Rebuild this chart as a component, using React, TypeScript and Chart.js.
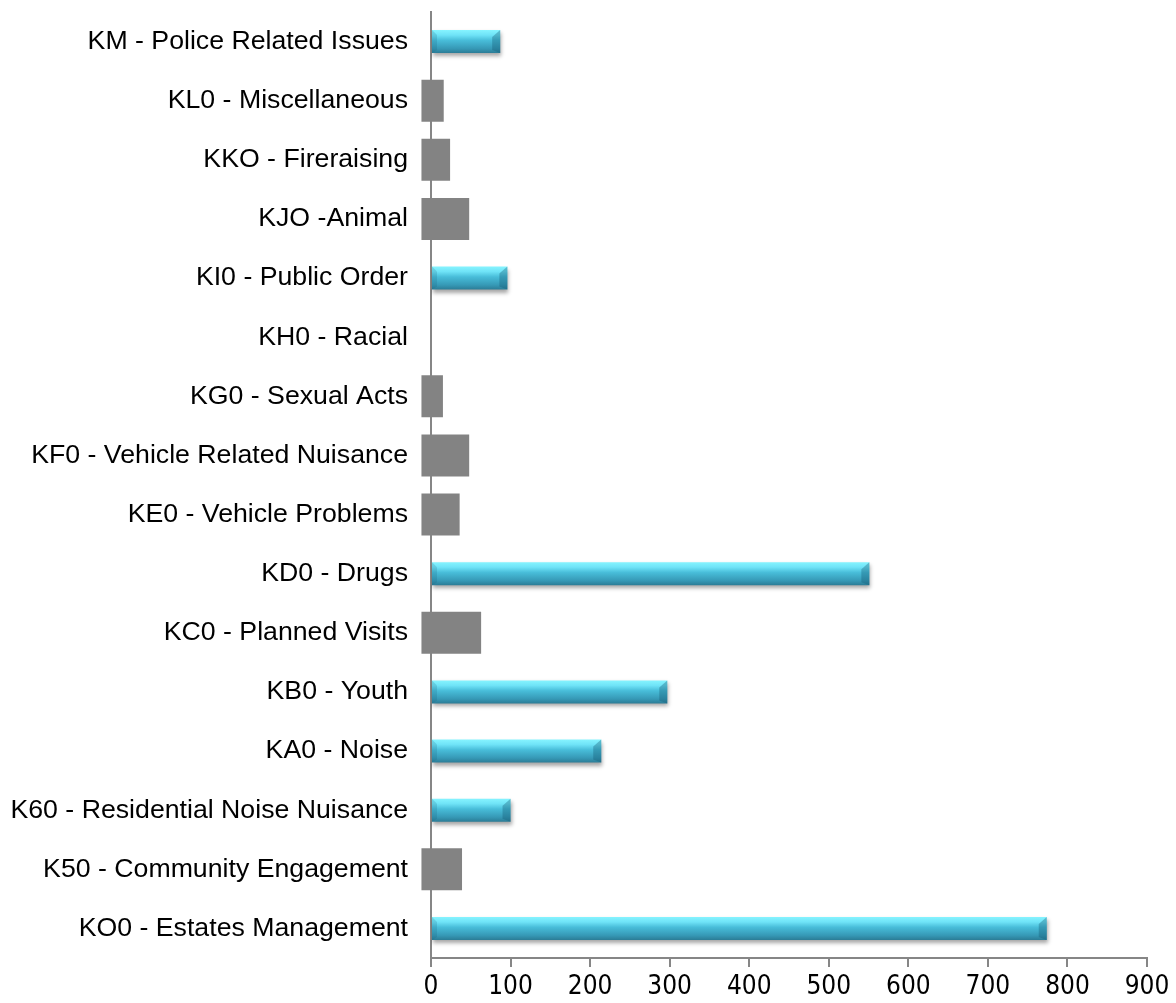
import React, { useEffect, useRef } from "react";
import { Chart, registerables } from "chart.js";

Chart.register(...registerables);

const CATEGORIES = [
  "KM - Police Related Issues",
  "KL0 - Miscellaneous",
  "KKO - Fireraising",
  "KJO -Animal",
  "KI0 - Public Order",
  "KH0 - Racial",
  "KG0 - Sexual Acts",
  "KF0 - Vehicle Related Nuisance",
  "KE0 - Vehicle Problems",
  "KD0 - Drugs",
  "KC0 - Planned Visits",
  "KB0 - Youth",
  "KA0 - Noise",
  "K60 - Residential Noise Nuisance",
  "K50 - Community Engagement",
  "KO0 - Estates Management",
];

const BLUE_VALUES = [87, null, null, null, 96, null, null, null, null, 551, null, 297, 214, 100, null, 774];
const GREY_VALUES = [null, 16, 24, 48, null, null, 15, 48, 36, null, 63, null, null, null, 39, null];

const X_MIN = 0;
const X_MAX = 900;
const X_STEP = 100;

const BLUE_FRACTION = 0.39;
const GREY_FRACTION = 0.71;
const GREY_BASE = -12;

const AXIS_COLOR = "#868686";

const shadowPlugin = {
  id: "barShadow",
  beforeDatasetDraw(chart: any, args: any) {
    if (args.index !== 0) return;
    const ctx = chart.ctx;
    ctx.save();
    ctx.shadowColor = "rgba(0,0,0,0.35)";
    ctx.shadowBlur = 4;
    ctx.shadowOffsetX = 1;
    ctx.shadowOffsetY = 3;
  },
  afterDatasetDraw(chart: any, args: any) {
    if (args.index !== 0) return;
    const ctx = chart.ctx;
    ctx.restore();
    const meta = chart.getDatasetMeta(0);
    meta.data.forEach((el: any, i: number) => {
      if (BLUE_VALUES[i] == null) return;
      const top = el.y - el.height / 2;
      const bot = el.y + el.height / 2;
      const x = el.x;
      const b = el.base;
      if (![top, bot, x, b].every(Number.isFinite)) return;
      ctx.save();
      ctx.beginPath();
      ctx.moveTo(x, top);
      ctx.lineTo(x, bot);
      ctx.lineTo(x - 8, bot - 3);
      ctx.lineTo(x - 8, top + 7);
      ctx.closePath();
      ctx.fillStyle = "rgba(20,90,115,0.35)";
      ctx.fill();
      ctx.beginPath();
      ctx.moveTo(b, top);
      ctx.lineTo(b + 5, top + 5);
      ctx.lineTo(b + 5, bot - 3);
      ctx.lineTo(b, bot);
      ctx.closePath();
      ctx.fillStyle = "rgba(20,90,115,0.18)";
      ctx.fill();
      ctx.restore();
    });
  },
};

export default function App() {
  const canvasRef = useRef<HTMLCanvasElement | null>(null);

  useEffect(() => {
    const canvas = canvasRef.current;
    if (!canvas) return;

    const blueGradient = (c: any) => {
      const chart = c.chart;
      const y = chart.scales && chart.scales.y;
      if (!y || c.type !== "data") return "#45BEDA";
      const center = y.getPixelForValue(c.dataIndex);
      const h = (y.height / CATEGORIES.length) * BLUE_FRACTION;
      if (!Number.isFinite(center) || !Number.isFinite(h) || h <= 0) return "#45BEDA";
      const g = chart.ctx.createLinearGradient(0, center - h / 2, 0, center + h / 2);
      g.addColorStop(0, "#86F4FF");
      g.addColorStop(0.22, "#6FE3F7");
      g.addColorStop(0.45, "#48BDD9");
      g.addColorStop(0.8, "#3699B6");
      g.addColorStop(1, "#2B7C96");
      return g;
    };

    const chart = new Chart(canvas, {
      type: "bar",
      data: {
        labels: CATEGORIES,
        datasets: [
          {
            label: "Blue",
            data: BLUE_VALUES as any,
            backgroundColor: blueGradient as any,
            borderWidth: 0,
            grouped: false,
            barPercentage: 1,
            categoryPercentage: BLUE_FRACTION,
          },
          {
            label: "Grey",
            data: GREY_VALUES as any,
            backgroundColor: "#838383",
            borderWidth: 0,
            grouped: false,
            barPercentage: 1,
            categoryPercentage: GREY_FRACTION,
            base: GREY_BASE,
            clip: false as any,
          } as any,
        ],
      },
      options: {
        indexAxis: "y",
        animation: false,
        responsive: false,
        maintainAspectRatio: false,
        layout: { padding: { top: 12, right: 29, left: 0, bottom: 0 } },
        plugins: {
          legend: { display: false },
          tooltip: { enabled: false },
        },
        scales: {
          x: {
            min: X_MIN,
            max: X_MAX,
            afterFit: (s: any) => {
              s.height = 45;
            },
            ticks: {
              stepSize: X_STEP,
              color: "#000",
              padding: 5,
              maxRotation: 0,
              font: { family: "'Liberation Sans Narrow', 'DejaVu Sans Condensed', sans-serif", size: 26 },
            },
            grid: {
              display: true,
              drawOnChartArea: false,
              drawTicks: true,
              tickLength: 9,
              color: AXIS_COLOR,
              lineWidth: 2,
            },
            border: { display: true, color: AXIS_COLOR, width: 2 },
          },
          y: {
            afterFit: (s: any) => {
              s.width = 431;
              s.paddingTop = 0;
              s.paddingBottom = 0;
            },
            ticks: {
              color: "#000",
              padding: 23,
              autoSkip: false,
              font: { family: "'Liberation Sans', Arial, sans-serif", size: 26.7 },
            },
            grid: {
              display: true,
              drawOnChartArea: false,
              drawTicks: false,
            },
            border: { display: true, color: AXIS_COLOR, width: 2 },
          },
        },
      },
      plugins: [shadowPlugin],
    });

    return () => chart.destroy();
  }, []);

  return (
    <div style={{ position: "absolute", left: 0, top: 0, width: 1176, height: 1003, background: "#fff" }}>
      <canvas ref={canvasRef} width={1176} height={1003} style={{ width: 1176, height: 1003, display: "block" }} />
    </div>
  );
}
